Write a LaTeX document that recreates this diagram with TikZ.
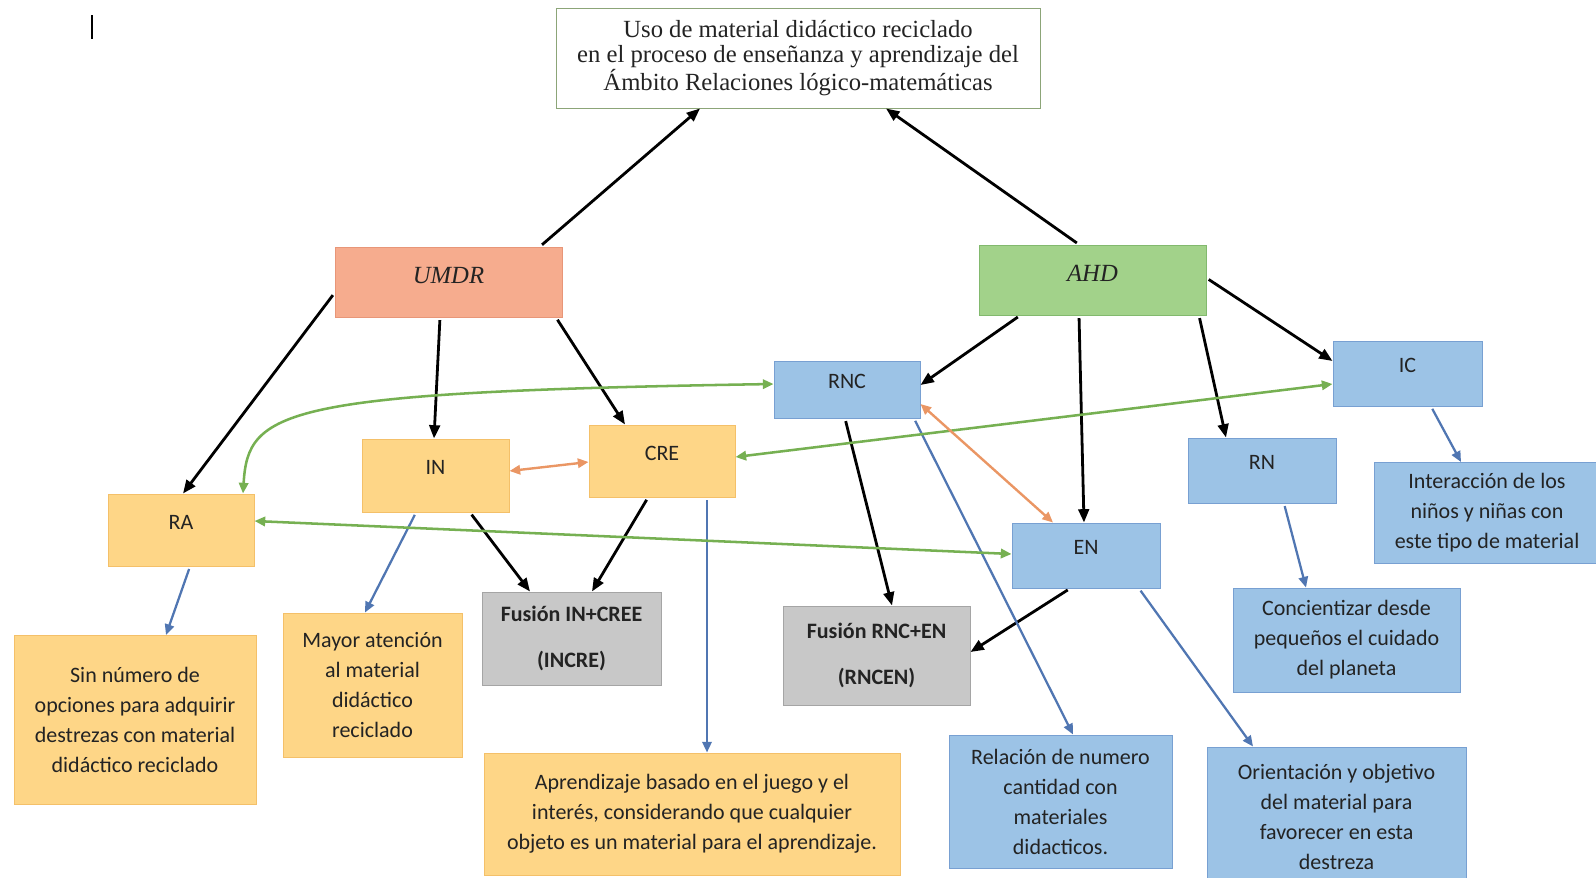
\documentclass[tikz,border=0pt]{standalone}
\usepackage{fontspec}
\setmainfont{Liberation Serif}
\setsansfont{Carlito}
\usetikzlibrary{arrows.meta}

\definecolor{txtgray}{RGB}{35,35,35}
\definecolor{titledraw}{RGB}{140,165,120}
\definecolor{umdrfill}{RGB}{246,172,142}
\definecolor{umdrdraw}{RGB}{232,150,120}
\definecolor{ahdfill}{RGB}{162,210,138}
\definecolor{ahddraw}{RGB}{130,185,110}
\definecolor{yelfill}{RGB}{254,214,135}
\definecolor{yeldraw}{RGB}{244,192,105}
\definecolor{bluefill}{RGB}{156,195,230}
\definecolor{bluedraw}{RGB}{120,160,210}
\definecolor{grayfill}{RGB}{200,200,200}
\definecolor{graydraw}{RGB}{165,165,165}
\definecolor{arrowblue}{RGB}{80,118,178}
\definecolor{arrowgreen}{RGB}{118,176,82}
\definecolor{arroworange}{RGB}{234,150,100}

\tikzset{every picture/.style={line width=0.75pt}}
\tikzset{
  cbox/.style={draw, align=center, inner sep=0.75pt, text=txtgray,
    font=\fontsize{16.5}{22.5}\selectfont\sffamily},
  titlebox/.style={cbox, draw=titledraw, fill=white,
    font=\fontsize{18.5}{19}\selectfont\rmfamily},
  headbox/.style={cbox, font=\fontsize{18.5}{20}\selectfont\rmfamily\itshape, text depth=10pt},
  yellowbox/.style={cbox, fill=yelfill, draw=yeldraw},
  bluebox/.style={cbox, fill=bluefill, draw=bluedraw},
  graybox/.style={cbox, fill=grayfill, draw=graydraw, font=\fontsize{16.5}{22.5}\selectfont\sffamily\bfseries},
  tagbox/.style={text depth=12pt},
  blackarrow/.style={draw=black, -{Triangle[length=10pt,width=8pt]}, line width=2.1pt, shorten <=2pt},
  bluearrow/.style={draw=arrowblue, -{Triangle[length=8pt,width=7pt]}, line width=1.7pt, shorten <=2pt},
  greenarrow/.style={draw=arrowgreen, {Triangle[length=8pt,width=7pt]}-{Triangle[length=8pt,width=7pt]}, line width=1.9pt},
  orangearrow/.style={draw=arroworange, {Triangle[length=8pt,width=7pt]}-{Triangle[length=8pt,width=7pt]}, line width=1.8pt}
}

\begin{document}
\begin{tikzpicture}[x=0.75pt,y=0.75pt,yscale=-1,xscale=1]
\useasboundingbox (0,0) rectangle (1596,878);
\clip (0,0) rectangle (1596,878);

%Cursor mark
\draw [line width=1.5pt] (92,15) -- (92,39);

% Title Node
\node [titlebox, minimum width=484*0.75pt, minimum height=100*0.75pt] (title) at (798,58)
  {Uso de material didáctico reciclado\\en el proceso de enseñanza y aprendizaje del\\Ámbito Relaciones lógico-matemáticas};

% Head Nodes
\node [headbox, fill=umdrfill, draw=umdrdraw, minimum width=227*0.75pt, minimum height=70*0.75pt] (umdr) at (448.5,282) {UMDR};
\node [headbox, fill=ahdfill, draw=ahddraw, minimum width=227*0.75pt, minimum height=70*0.75pt] (ahd) at (1092.5,280) {AHD};

% Left branch
\node [yellowbox, tagbox, minimum width=146*0.75pt, minimum height=72*0.75pt] (ra) at (181,530) {RA};
\node [yellowbox, tagbox, minimum width=147*0.75pt, minimum height=73*0.75pt] (in) at (435.5,475.5) {IN};
\node [yellowbox, tagbox, minimum width=146*0.75pt, minimum height=72*0.75pt] (cre) at (662,461) {CRE};
\node [graybox, minimum width=179*0.75pt, minimum height=93*0.75pt] (fin) at (571.5,638.5) {Fusión IN+CREE\\[12pt](INCRE)};
\node [yellowbox, minimum width=242*0.75pt, minimum height=169*0.75pt] (sin) at (135,720)
  {Sin número de\\opciones para adquirir\\destrezas con material\\didáctico reciclado};
\node [yellowbox, minimum width=179*0.75pt, minimum height=144*0.75pt] (mayor) at (372.5,685)
  {Mayor atención\\al material\\didáctico\\reciclado};
\node [yellowbox, minimum width=416*0.75pt, minimum height=122*0.75pt] (apr) at (692,814)
  {Aprendizaje basado en el juego y el\\interés, considerando que cualquier\\objeto es un material para el aprendizaje.};

% Right branch
\node [bluebox, tagbox, minimum width=146*0.75pt, minimum height=57*0.75pt] (rnc) at (847,389.5) {RNC};
\node [bluebox, tagbox, minimum width=149*0.75pt, minimum height=65*0.75pt] (ic) at (1407.5,373.5) {IC};
\node [bluebox, tagbox, minimum width=148*0.75pt, minimum height=65*0.75pt] (rn) at (1262,470.5) {RN};
\node [bluebox, tagbox, minimum width=148*0.75pt, minimum height=65*0.75pt] (en) at (1086,555.5) {EN};
\node [graybox, minimum width=187*0.75pt, minimum height=99*0.75pt] (frn) at (876.5,655.5) {Fusión RNC+EN\\[12pt](RNCEN)};
\node [bluebox, minimum width=226*0.75pt, minimum height=101*0.75pt] (inter) at (1487,513)
  {Interacción de los\\niños y niñas con\\este tipo de material};
\node [bluebox, minimum width=227*0.75pt, minimum height=104*0.75pt] (conc) at (1346.5,640)
  {Concientizar desde\\pequeños el cuidado\\del planeta};
\node [bluebox, minimum width=259*0.75pt, minimum height=140*0.75pt] (ori) at (1336.5,817)
  {Orientación y objetivo\\del material para\\favorecer en esta\\destreza};
\node [bluebox, minimum width=223*0.75pt, minimum height=133*0.75pt] (rel) at (1060.5,801.5)
  {Relación de numero\\cantidad con\\materiales\\didacticos.};

%Black connectors
\draw [blackarrow] (umdr.north -| 540,0) -- (title.south -| 700,0);
\draw [blackarrow] (ahd.north -| 1079,0) -- (title.south -| 886,0);
\draw [blackarrow] (umdr.west |- 0,293) -- (ra.north -| 183,0);
\draw [blackarrow] (umdr.south -| 440,0) -- (in.north -| 434,0);
\draw [blackarrow] (umdr.south -| 556,0) -- (cre.north -| 625,0);
\draw [blackarrow] (in.south -| 470,0) -- (fin.north -| 530,0);
\draw [blackarrow] (cre.south -| 648,0) -- (fin.north -| 592,0);
\draw [blackarrow] (ahd.south -| 1020,0) -- (rnc.east |- 0,385);
\draw [blackarrow] (ahd.south -| 1079,0) -- (en.north -| 1084,0);
\draw [blackarrow] (ahd.south -| 1199,0) -- (rn.north -| 1226,0);
\draw [blackarrow] (ahd.east |- 0,278) -- (ic.west |- 0,361);
\draw [blackarrow] (rnc.south -| 845,0) -- (frn.north -| 892,0);
\draw [blackarrow] (en.south -| 1070,0) -- (frn.east |- 0,652);

%Blue connectors
\draw [bluearrow] (ra.south -| 190,0) -- (sin.north -| 166,0);
\draw [bluearrow] (in.south -| 416,0) -- (mayor.north -| 365,0);
\draw [bluearrow] (cre.south -| 707,0) -- (apr.north -| 707,0);
\draw [bluearrow] (rnc.south -| 914,0) -- (rel.north -| 1073,0);
\draw [bluearrow] (en.south -| 1139,0) -- (ori.north -| 1253,0);
\draw [bluearrow] (rn.south -| 1284,0) -- (conc.north -| 1306,0);
\draw [bluearrow] (ic.south -| 1431,0) -- (inter.north -| 1461,0);

%Green connectors
\draw [greenarrow] (ra.north -| 243,0) .. controls (248,410) and (280,392) .. (rnc.west |- 0,384);
\draw [greenarrow] (cre.east |- 0,457) -- (ic.west |- 0,384);
\draw [greenarrow] (ra.east |- 0,521) -- (en.west |- 0,554);

%Orange connectors
\draw [orangearrow] (in.east |- 0,471) -- (cre.west |- 0,462);
\draw [orangearrow] (rnc.east |- 0,404) -- (en.north -| 1053,0);

\end{tikzpicture}
\end{document}
